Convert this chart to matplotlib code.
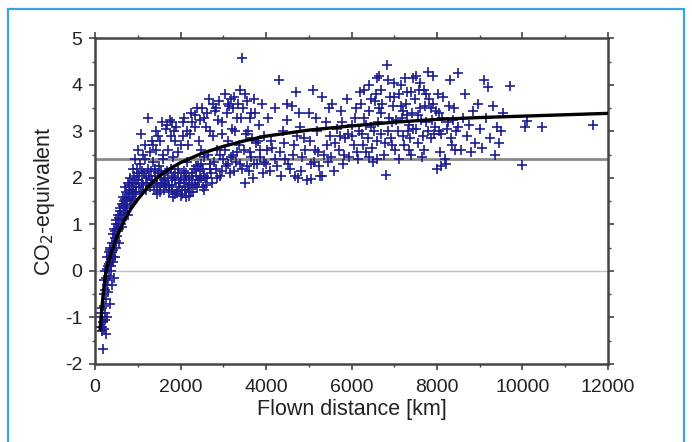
import matplotlib.pyplot as plt
from matplotlib.patches import Rectangle
from matplotlib.ticker import MultipleLocator

plt.rcParams['font.family'] = ['Liberation Sans', 'DejaVu Sans']
plt.rcParams['axes.unicode_minus'] = False

# scatter: flown distance [km] and CO2-equivalent
dist_km = [
    130, 150, 160, 170, 180, 190, 200, 210, 220, 230, 240, 250, 260, 270, 280, 290, 300, 310, 320, 330,
    340, 350, 360, 370, 380, 390, 400, 410, 420, 430, 440, 450, 460, 470, 480, 490, 500, 520, 540, 560,
    580, 600, 620, 640, 660, 680, 700, 720, 740, 760, 780, 800, 820, 840, 860, 880, 900, 920, 940, 960,
    980, 1000, 1020, 1050, 1080, 1100, 1120, 1150, 1180, 1200, 1230, 1250, 1280, 1300, 1330, 1360, 1400,
    1420, 1450, 1480, 1500, 1530, 1560, 1600, 1620, 1650, 1680, 1700, 1730, 1760, 1800, 1830, 1860, 1900,
    1930, 1960, 2000, 2030, 2060, 2100, 2130, 2160, 2200, 2230, 2260, 2300, 2330, 2360, 2400, 2430, 2460,
    2500, 2530, 2560, 2600, 2630, 2660, 2700, 2730, 2760, 2800, 2830, 2860, 2900, 2930, 2960, 3000, 3030,
    3060, 3100, 3130, 3160, 3200, 3230, 3260, 3300, 3330, 3360, 3400, 3430, 3450, 3470, 3500, 3530, 3560,
    3600, 3630, 3660, 3700, 3730, 3760, 3800, 3830, 3860, 3900, 3930, 3960, 4000, 4050, 4100, 4150, 4200,
    4250, 4300, 4350, 4400, 4450, 4500, 4550, 4600, 4650, 4700, 4750, 4800, 4850, 4900, 4950, 5000, 5050,
    5100, 5150, 5200, 5250, 5300, 5350, 5400, 5450, 5500, 5550, 5600, 5650, 5700, 5750, 5800, 5850, 5900,
    5950, 6000, 6050, 6100, 6150, 6200, 6250, 6300, 6350, 6400, 6450, 6500, 6550, 6600, 6650, 6700, 6750,
    6800, 6820, 6850, 6900, 6950, 7000, 7050, 7100, 7150, 7200, 7250, 7300, 7350, 7400, 7450, 7500, 7550,
    7600, 7650, 7700, 7750, 7800, 7850, 7900, 7950, 8000, 8050, 8100, 8150, 8200, 8250, 8300, 8350, 8400,
    8450, 8500, 8550, 8600, 8650, 8700, 8750, 8800, 8850, 8900, 8950, 9000, 9050, 9100, 9150, 9200, 9250,
    9300, 9350, 9400, 9450, 9500, 9550, 9700, 10000, 10050, 10100, 10450, 11650,
    140, 175, 205, 225, 245, 265, 285, 305, 325, 345, 365, 385, 405, 425, 445, 465, 485, 505, 530, 550,
    570, 590, 610, 630, 650, 670, 690, 710, 730, 750, 770, 790, 810, 830, 850, 870, 890, 910, 930, 950,
    970, 990, 1010, 1040, 1070, 1090, 1130, 1160, 1190, 1220, 1260, 1290, 1320,
    1340, 1380, 1410, 1440, 1470, 1510, 1540, 1570, 1610, 1640, 1670, 1710, 1740, 1770, 1810, 1840, 1870,
    1910, 1940, 1970, 2010, 2040, 2070, 2110, 2140, 2170, 2210, 2240, 2270, 2310, 2340, 2370, 2410, 2440,
    2470, 1350, 1430, 1520, 1590, 1690, 1780, 1850, 1950, 2050, 2150, 2250, 2350, 2450, 2480,
    2520, 2580, 2650, 2710, 2780, 2850, 2920, 2980, 3050, 3120, 3180, 3250, 3320, 3380, 3480, 3550, 3650,
    3720, 3850, 3950, 2620, 2750, 2880, 3080, 3170, 3280, 3420, 3580, 3680, 3820,
    4020, 4120, 4220, 4330, 4420, 4520, 4620, 4720, 4820, 4920, 5020, 5120, 5220, 5320, 5420, 5520, 5620,
    5720, 5820, 5920, 4480, 4780, 5180, 5480, 5780, 4680, 5060, 5260,
    6020, 6080, 6120, 6180, 6220, 6280, 6330, 6380, 6420, 6480, 6520, 6580, 6620, 6680, 6720, 6780, 6870,
    6920, 6980, 7020, 7080, 7120, 7180, 7220, 7280, 7320, 7380, 7420, 7480, 7520, 7580, 7620, 7680, 7720,
    7780, 7820, 7880, 7920, 7980, 8020, 8080, 8120, 8180, 8230, 8280, 8320, 8380, 8420, 8480,
    1460, 1550, 1630, 1720, 1790, 1880, 1990, 2080, 2120, 2190, 2280, 2390, 2490, 2540, 2600, 2680, 2560,
    1820, 2020, 2200,
    1800, 1880, 2080, 2180, 2280, 2380, 2550, 2680, 2840, 2960, 3100, 3220, 3350, 3520, 3620, 3740,
    6300, 6450, 6600, 6700, 6850, 7000, 7150, 7300, 7450, 7600, 7750, 7900, 7200, 7350, 6950, 6650, 7550,
    7850, 8050, 6400, 6600, 7400, 7700, 8100,
]
co2_eq = [
    -1.2, -1.0, -1.3, -0.8, -1.1, -1.68, -0.5, -1.25, -0.2, -0.9, 0.0, -1.35, -0.6, 0.3, -0.3, -1.0, 0.1, -0.45, 0.4, -0.1,
    0.2, -0.7, 0.5, 0.0, 0.35, -0.3, 0.6, 0.2, 0.8, 0.45, -0.15, 0.9, 0.3, 0.7, 1.0, 0.5, 1.1, 0.75, 1.2, 0.9,
    1.3, 1.0, 1.45, 1.1, 1.6, 1.25, 1.8, 1.4, 1.5, 1.9, 1.2, 1.65, 2.0, 1.45, 1.75, 2.2, 1.55, 1.9, 2.4, 1.7,
    2.1, 2.6, 1.8, 2.3, 2.95, 1.9, 2.5, 2.1, 2.7, 1.75, 3.3, 2.2, 2.55, 1.9, 2.8, 2.35, 2.05,
    2.6, 1.85, 2.9, 2.25, 1.7, 3.2, 2.4, 1.95, 3.05, 2.15, 2.6, 1.8, 3.25, 2.0, 2.45, 1.65, 3.1,
    2.2, 1.9, 2.7, 1.75, 3.2, 2.05, 1.6, 2.35, 1.85, 2.95, 2.1, 1.7, 3.35, 2.25, 1.95, 2.8, 2.15,
    3.5, 1.8, 2.45, 3.1, 2.0, 3.7, 2.3, 1.9, 2.9, 3.45, 2.2, 2.6, 3.65, 2.05, 3.2, 2.4, 3.8,
    2.25, 2.8, 3.55, 2.1, 3.05, 2.5, 3.75, 2.35, 3.3, 2.7, 3.9, 2.2, 4.57, 3.5, 1.9, 2.95, 3.65,
    2.15, 2.55, 3.4, 2.0, 3.7, 2.75, 2.3, 3.15, 2.45, 3.6, 2.1, 2.9, 2.3, 3.3, 2.15, 2.65, 3.5,
    2.25, 4.1, 2.05, 3.0, 2.4, 3.25, 2.2, 3.55, 2.7, 3.85, 2.0, 3.1, 2.45, 2.85, 1.95, 3.4, 2.3,
    3.9, 2.6, 3.0, 2.25, 3.75, 2.5, 3.2, 2.35, 2.9, 3.6, 2.15, 3.05, 2.6, 3.45, 2.3, 2.85, 3.7,
    2.45, 3.15, 2.7, 3.5, 2.4, 3.85, 2.95, 3.3, 2.55, 4.0, 3.1, 2.35, 3.65, 2.8, 4.2, 3.4, 2.5,
    2.07, 4.42, 3.0, 3.75, 2.7, 4.05, 3.25, 2.4, 3.55, 2.9, 4.15, 3.35, 2.6, 3.85, 3.05, 4.2, 2.75,
    3.5, 2.45, 3.9, 3.2, 4.28, 2.85, 3.6, 3.1, 2.2, 3.4, 2.95, 3.75, 2.3, 3.2, 4.1, 2.7, 3.5,
    3.0, 4.25, 2.6, 3.3, 3.8, 2.9, 3.15, 2.55, 3.45, 2.75, 3.6, 3.05, 2.65, 4.1, 3.3, 3.95, 2.85,
    3.55, 2.5, 3.1, 2.75, 3.0, 3.4, 3.98, 2.28, 3.1, 3.22, 3.1, 3.15,
    -0.9, -1.2, -0.75, -1.05, -0.4, -0.15, 0.05, -0.2, 0.15, 0.45, 0.25, 0.1, 0.4, 0.3, 0.6, 0.85, 0.65, 0.9, 1.0, 0.6,
    1.15, 1.35, 1.2, 0.95, 1.4, 1.5, 1.3, 1.55, 1.7, 1.35, 1.6, 1.85, 1.5, 1.75, 1.6, 1.9, 1.7, 2.05, 1.65, 1.95,
    1.8, 2.2, 1.95, 2.05, 1.7, 2.15, 1.85, 2.4, 2.0, 1.9, 2.05, 1.8, 2.15,
    1.95, 1.75, 2.2, 1.9, 2.1, 1.8, 2.0, 1.9, 1.75, 2.1, 1.85, 2.0, 1.7, 2.2, 1.85, 2.05, 1.95,
    1.7, 2.1, 1.8, 2.0, 1.65, 1.9, 1.75, 2.1, 1.8, 2.0, 1.7, 1.9, 2.2, 1.85, 2.05, 2.25, 1.95,
    2.3, 2.7, 3.0, 2.8, 2.5, 3.15, 2.9, 3.0, 2.55, 2.9, 3.0, 3.4, 3.1, 3.25, 2.6,
    2.2, 2.0, 2.5, 2.1, 2.35, 2.0, 2.5, 2.15, 2.6, 2.3, 2.45, 2.15, 2.55, 2.3, 2.6, 2.25, 2.45,
    2.3, 2.6, 2.35, 3.4, 3.6, 3.25, 3.4, 3.7, 3.0, 3.3, 3.0, 2.85, 2.8,
    2.6, 2.8, 2.4, 2.55, 2.75, 2.3, 2.5, 2.9, 2.15, 2.6, 2.8, 2.35, 2.55, 2.05, 2.7, 2.45, 2.75,
    2.9, 2.5, 2.95, 3.6, 3.4, 3.3, 3.5, 3.2, 2.05, 1.98, 2.05,
    2.9, 3.3, 2.55, 3.0, 3.6, 2.7, 3.15, 2.85, 3.45, 2.65, 3.0, 3.8, 3.2, 2.95, 3.6, 2.75, 3.3,
    2.85, 3.55, 2.6, 3.0, 3.8, 3.3, 2.7, 3.6, 3.0, 2.85, 3.4, 3.7, 3.05, 3.9, 3.25, 2.9, 3.55,
    3.0, 3.7, 3.25, 2.95, 3.45, 3.8, 2.55, 3.3, 2.4, 3.05, 3.55, 2.85, 3.25, 2.6, 3.1,
    1.65, 2.15, 1.9, 1.85, 1.75, 2.1, 1.9, 2.15, 1.95, 1.7, 2.05, 1.8, 2.0, 2.05, 1.85, 2.2, 1.75,
    1.6, 1.62, 1.62,
    3.2, 2.8, 3.3, 2.7, 3.2, 3.5, 3.3, 3.0, 3.5, 2.95, 3.6, 3.5, 3.6, 3.8, 3.3, 3.4,
    3.9, 3.7, 4.15, 3.9, 4.1, 3.75, 4.0, 3.85, 4.15, 4.05, 3.8, 4.2, 3.45, 3.15, 3.2, 3.5, 3.35,
    3.5, 3.0, 2.45, 2.4, 2.5, 2.6, 2.25,
]

# fitted curve
fit_km = [120, 160, 200, 250, 300, 400, 500, 600, 700, 850, 1000, 1250, 1500, 1750, 2000, 2500,
          3000, 3500, 4000, 5000, 6000, 7000, 8000, 9000, 10000, 11000, 12000]
fit_eq = [-1.25, -0.8, -0.42, -0.05, 0.15, 0.45, 0.7, 0.92, 1.12, 1.35, 1.54, 1.82, 2.04, 2.2, 2.33, 2.53,
          2.68, 2.8, 2.9, 3.03, 3.12, 3.2, 3.26, 3.3, 3.33, 3.36, 3.39]

mean_level = 2.4

fig = plt.figure(figsize=(6.92, 4.42), dpi=100)
ax = fig.add_axes([0.1373, 0.1765, 0.7413, 0.7364])

ax.axhline(0, color='#c0c0c0', lw=1.0, zorder=1)
ax.axhline(mean_level, color='#8a8a8a', lw=2.0, zorder=1)
ax.plot(dist_km, co2_eq, '+', color='#1c1c94', ms=7, mew=1.2, zorder=2)
ax.plot(fit_km, fit_eq, color='black', lw=2.4, zorder=3)

ax.set_xlim(0, 12000)
ax.set_ylim(-2, 5)
ax.xaxis.set_major_locator(MultipleLocator(2000))
ax.xaxis.set_minor_locator(MultipleLocator(1000))
ax.yaxis.set_major_locator(MultipleLocator(1))
ax.yaxis.set_minor_locator(MultipleLocator(0.5))
ax.tick_params(which='both', direction='out', top=True, right=True, color='#444444')
ax.tick_params(which='major', length=4, width=1.2, labelsize=14, labeltop=False, labelright=False,
               labelcolor='#222222')
ax.tick_params(axis='x', which='major', pad=7)
ax.tick_params(axis='y', which='major', pad=5)
ax.tick_params(which='minor', length=2.5, width=1)
for s in ax.spines.values():
    s.set_linewidth(1.8)
    s.set_color('#444444')

ax.set_xlabel('Flown distance [km]', fontsize=15.5, labelpad=2, color='#222222')
ax.set_ylabel('CO$_2$-equivalent', fontsize=15.5, labelpad=6, color='#222222')

# light blue frame round the figure
fig.add_artist(Rectangle((8 / 692, -0.1), 676 / 692, 1.1 - 9 / 442, transform=fig.transFigure,
                         fill=False, edgecolor='#3aa6df', lw=1.6))

fig.savefig('out.png', dpi=100)
